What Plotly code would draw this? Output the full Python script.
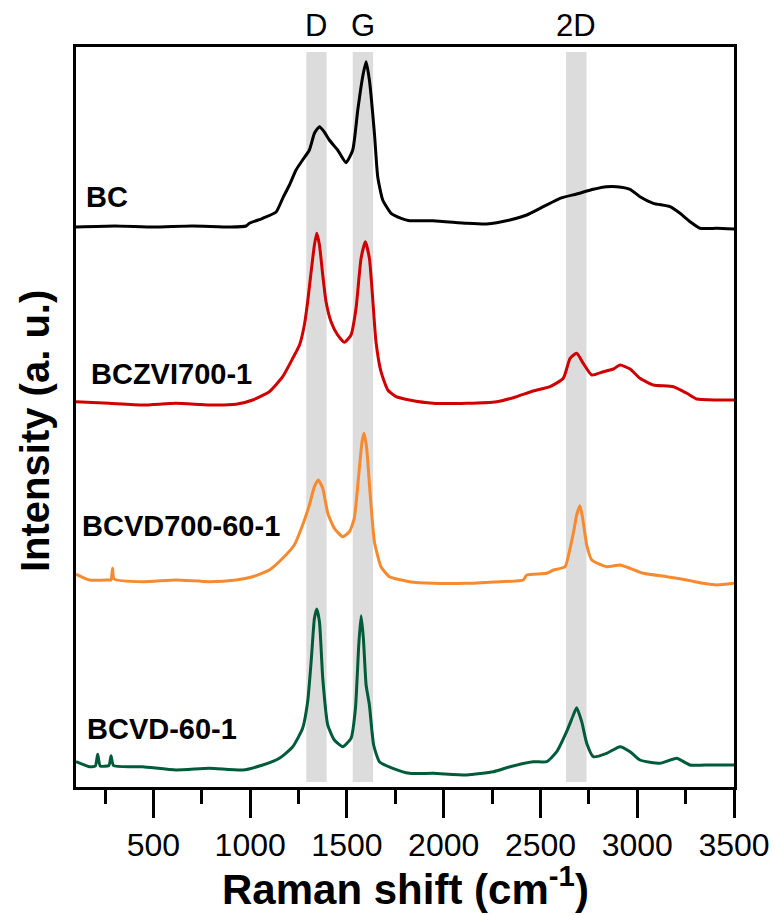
import plotly.graph_objects as go

# Raman shift (cm-1) and intensity (a.u., stacked)
bc_shift = [100, 300, 500, 700, 900, 979, 996, 1065, 1134, 1168,
            1203, 1237, 1271, 1306, 1332, 1358, 1383, 1409, 1452, 1495,
            1530, 1556, 1581, 1599, 1616, 1642, 1659, 1685, 1728, 1780,
            1823, 1946, 2119, 2222, 2342, 2429, 2515, 2601, 2687, 2773,
            2842, 2894, 2963, 3014, 3083, 3169, 3221, 3273, 3324, 3411, 3500]
bc_int = [560, 561, 560, 561, 560, 561, 563.7, 568.7, 575, 588.7,
          602, 617, 627, 637, 653.7, 660.3, 655, 647, 637, 624.3,
          637, 677, 710, 725.3, 707, 653.7, 610.3, 587, 573.7, 568.7,
          566.3, 566.3, 563.7, 563, 567, 572, 580.3, 588.7, 593, 597.7,
          600.3, 600.3, 597.7, 590.3, 583.7, 580.3, 573.7, 565.3, 558.7, 558.7, 558]

zvi_shift = [100, 272, 445, 617, 789, 927, 1013, 1099, 1168, 1220,
             1255, 1280, 1297, 1315, 1332, 1344, 1358, 1375, 1392, 1418,
             1452, 1487, 1521, 1547, 1573, 1595, 1616, 1633, 1650, 1676,
             1711, 1754, 1823, 1946, 2119, 2274, 2360, 2463, 2549, 2618,
             2653, 2687, 2721, 2765, 2825, 2877, 2911, 2963, 3014, 3083,
             3187, 3256, 3307, 3411, 3500]
zvi_int = [385.3, 383.7, 382, 383.7, 382, 382.7, 387, 395.3, 410.3, 428.7,
           442, 462, 485.3, 515.3, 542, 553.7, 542, 512, 485.3, 465.3,
           452, 444.7, 452, 478.7, 528.7, 545.3, 528.7, 488.7, 445.3, 415.3,
           397, 390.3, 387, 383.7, 383.7, 385.3, 389.3, 396, 400.3, 408.7,
           428.7, 433.7, 423.7, 412, 415.3, 418, 422, 418, 408.7, 402,
           400.3, 393.7, 388, 387, 387]

cvd700_shift = [100, 109, 169, 272, 281, 289, 297, 445, 617, 789,
                927, 1013, 1099, 1168, 1228, 1271, 1306, 1332, 1352, 1375,
                1401, 1435, 1478, 1513, 1538, 1561, 1578, 1588, 1602, 1619,
                1642, 1676, 1719, 1823, 1946, 2119, 2291, 2411, 2429, 2532,
                2567, 2627, 2653, 2673, 2687, 2704, 2718, 2739, 2765, 2842,
                2911, 2963, 3032, 3152, 3256, 3342, 3411, 3500]
cvd700_int = [212.7, 212, 207, 207, 207, 218.7, 208, 205.3, 207, 205.3,
              207, 210.3, 217, 228.7, 242, 262, 282, 300.3, 307, 298.7,
              273.7, 258.7, 250.3, 255.3, 268.7, 312, 345.3, 353.7, 338.7, 295.3,
              245.3, 220.3, 210.3, 205.3, 203.7, 203.7, 205.3, 207, 212, 213.7,
              217, 220.3, 238.7, 257, 272, 281.3, 268.7, 242, 227, 220.3,
              222, 218.7, 213.7, 210.3, 207, 203.7, 202, 203.7]

cvd_shift = [100, 169, 200, 212, 225, 270, 281, 294, 445, 617,
             789, 961, 1065, 1151, 1220, 1271, 1297, 1315, 1332, 1344,
             1358, 1375, 1401, 1435, 1478, 1521, 1544, 1561, 1573, 1585,
             1599, 1616, 1638, 1668, 1737, 1823, 1946, 2119, 2257, 2343,
             2463, 2532, 2584, 2635, 2670, 2687, 2713, 2739, 2773, 2842,
             2911, 2963, 3014, 3118, 3204, 3273, 3376, 3500]
cvd_int = [25.3, 20.3, 21, 32.7, 21, 21.5, 31.3, 21.3, 20.3, 17,
           18.7, 17, 22, 28.7, 40.3, 58.7, 85.3, 125.3, 168.7, 178,
           165.3, 108.7, 62, 47, 40.3, 48.7, 78.7, 142, 171.3, 148.7,
           102, 82, 42, 25.3, 18.7, 13.7, 13.7, 12, 15.3, 20.3,
           25.3, 25.3, 35.3, 55.3, 72, 79.3, 65.3, 43.7, 30.3, 33.7,
           40.3, 35.3, 27, 23.7, 28.7, 22, 22, 22]

series_names = ["BC", "BCZVI700-1", "BCVD700-60-1", "BCVD-60-1"]
series_colors = ["#000000", "#D00000", "#F78A2E", "#005B3A"]
label_pos = [(85, 197), (90, 374), (81, 526), (86, 729)]  # left x, center y (px)

band_labels = ["D", "G", "2D"]
band_lo = [1290, 1530, 2632]
band_hi = [1395, 1635, 2738]

xtick_vals = [500, 1000, 1500, 2000, 2500, 3000, 3500]
xminor_vals = [250, 750, 1250, 1750, 2250, 2750, 3250]

W, H = 774, 915
L, R, T, B = 76, 734, 47, 787
pw, ph = R - L, B - T


def px(xp):
    return (xp - L) / pw


def py(yp):
    return (B - yp) / ph


fig = go.Figure()
data = [(bc_shift, bc_int), (zvi_shift, zvi_int), (cvd700_shift, cvd700_int), (cvd_shift, cvd_int)]
for (xs, ys), name, col in zip(data, series_names, series_colors):
    fig.add_trace(go.Scatter(x=xs, y=ys, mode="lines", name=name,
                             line=dict(color=col, width=3, shape="spline", smoothing=0.5),
                             showlegend=False))

shapes = []
annotations = []
for lab, lo, hi in zip(band_labels, band_lo, band_hi):
    shapes.append(dict(type="rect", xref="x", yref="paper", x0=lo, x1=hi,
                       y0=py(782), y1=py(52), fillcolor="#DCDCDC",
                       line=dict(width=0), layer="below"))
    annotations.append(dict(text=lab, xref="x", yref="paper", x=(lo + hi) / 2,
                            y=py(26), showarrow=False, xanchor="center", yanchor="middle",
                            font=dict(size=31, color="black")))

for name, (lx, ly) in zip(series_names, label_pos):
    annotations.append(dict(text=f"<b>{name}</b>", xref="paper", yref="paper",
                            x=px(lx), y=py(ly), showarrow=False, xanchor="left",
                            yanchor="middle", borderpad=0, font=dict(size=29, color="black")))

annotations.append(dict(text="<b>Intensity (a. u.)</b>", xref="paper", yref="paper",
                        x=px(35), y=py(431), textangle=-90, showarrow=False,
                        xanchor="center", yanchor="middle", font=dict(size=40, color="black")))
annotations.append(dict(text="<b>Raman shift (cm<sup>-1</sup>)</b>", xref="paper", yref="paper",
                        x=px(405), y=py(914), showarrow=False, borderpad=0,
                        xanchor="center", yanchor="bottom", font=dict(size=42, color="black")))

fig.update_layout(
    width=W, height=H,
    margin=dict(l=L, r=W - R, t=T, b=H - B, pad=0, autoexpand=False),
    paper_bgcolor="white", plot_bgcolor="white",
    font=dict(family="Liberation Sans, Arial, sans-serif", color="black"),
    shapes=shapes, annotations=annotations,
    xaxis=dict(range=[100, 3500], tickvals=xtick_vals, ticks="outside", ticklen=28,
               tickwidth=3, tickcolor="black", showgrid=False, zeroline=False,
               showline=True, linewidth=3, linecolor="black", mirror=True,
               automargin=False,
               tickfont=dict(size=32, color="black"),
               minor=dict(tickvals=xminor_vals, ticks="outside", ticklen=14,
                          tickwidth=3, tickcolor="black", showgrid=False)),
    yaxis=dict(range=[0, 740], showticklabels=False, ticks="", showgrid=False,
               automargin=False,
               zeroline=False, showline=True, linewidth=3, linecolor="black", mirror=True),
)

fig.write_html("out.html")
